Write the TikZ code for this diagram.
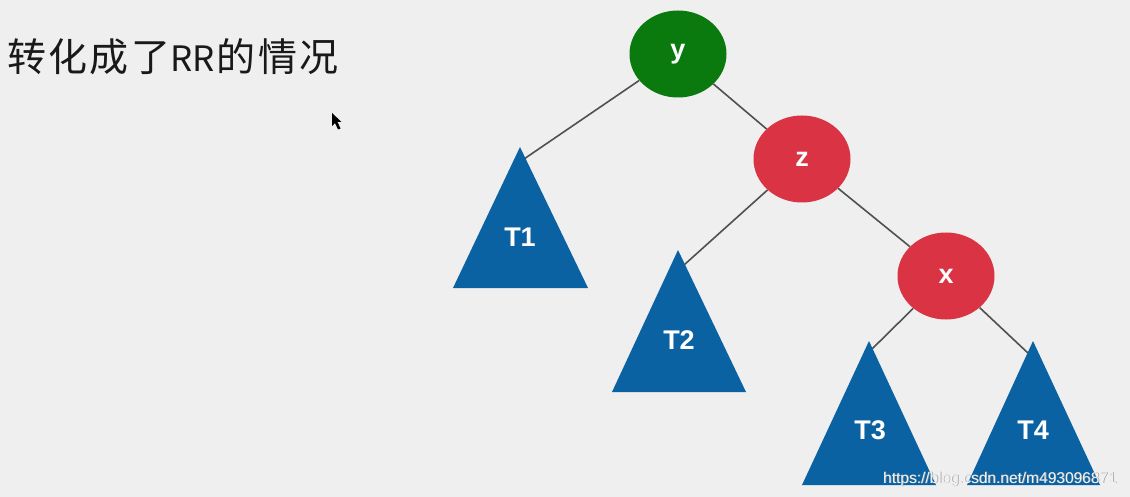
\documentclass[tikz,border=0pt]{standalone}
\usepackage{fontspec}
\setmainfont{Liberation Sans}
\newfontfamily\cjkfont[LetterSpace=6]{Noto Sans CJK SC}
\newfontfamily\cjklatin{Noto Sans CJK SC}
\usetikzlibrary{shapes.geometric}
\definecolor{bgc}{HTML}{EFEFEF}
\definecolor{greenc}{HTML}{0B7A0E}
\definecolor{redc}{HTML}{D93344}
\definecolor{bluec}{HTML}{0B62A3}
\definecolor{edgec}{HTML}{505050}
\tikzset{
  rbnode/.style={ellipse, minimum width=97pt, minimum height=87pt, inner sep=0pt,
    text=white, font=\bfseries\fontsize{27}{27}\selectfont},
  blacknode/.style={rbnode, fill=greenc},
  rednode/.style={rbnode, fill=redc},
  subtree/.style={fill=bluec},
  treelabel/.style={text=white, font=\bfseries\fontsize{27}{27}\selectfont, inner sep=0pt},
  link/.style={draw=edgec, line width=1.6pt},
}
\begin{document}
\begin{tikzpicture}[x=1pt,y=-1pt]
\fill[bgc] (0,0) rectangle (1130,497);
\useasboundingbox (0,0) rectangle (1130,497);

% title
\node[anchor=base west, inner sep=0pt, text=black!90] (title) at (7,72)
  {\cjkfont\fontsize{39}{39}\selectfont 转化成了{\cjklatin\fontsize{35}{35}\selectfont RR\hspace{2pt}}的情况};

% cursor
\fill[black] (332,113) -- (332,126) -- (335,123) -- (338,129.5) -- (340.5,128.5) -- (337.5,122) -- (341.5,122) -- cycle;

% nodes
\node[blacknode] (y) at (678,54) {y};
\node[rednode] (z) at (802,159) {z};
\node[rednode] (x) at (946,276) {x};

% contact points on subtrees
\coordinate (c1) at (524,159);
\coordinate (c2) at (684,265);
\coordinate (c3) at (871,350);
\coordinate (c4) at (1029,354);

% connectors
\draw[link] (y) -- (c1);
\draw[link] (y) -- (z);
\draw[link] (z) -- (c2);
\draw[link] (z) -- (x);
\draw[link] (x) -- (c3);
\draw[link] (x) -- (c4);

% subtrees
\fill[subtree] (520,147) -- (588,288) -- (453,288) -- cycle;
\fill[subtree] (678,250) -- (746,392) -- (612,392) -- cycle;
\fill[subtree] (869,341) -- (936,485) -- (802,485) -- cycle;
\fill[subtree] (1033,341) -- (1100,485) -- (967,485) -- cycle;

\node[treelabel] (T1) at (520,237) {T1};
\node[treelabel] (T2) at (679,340) {T2};
\node[treelabel] (T3) at (870,430) {T3};
\node[treelabel] (T4) at (1033,430) {T4};

% watermark
\node[anchor=base west, inner sep=0pt, text=gray!80, font=\fontsize{15.5}{15.5}\selectfont] (wmshadow) at (883.7,483.7) {https://blog.csdn.net/m493096871};
\node[anchor=base west, inner sep=0pt, text=white!90!gray, font=\fontsize{15.5}{15.5}\selectfont] (wm) at (883,483) {https://blog.csdn.net/m493096871};
\end{tikzpicture}
\end{document}
